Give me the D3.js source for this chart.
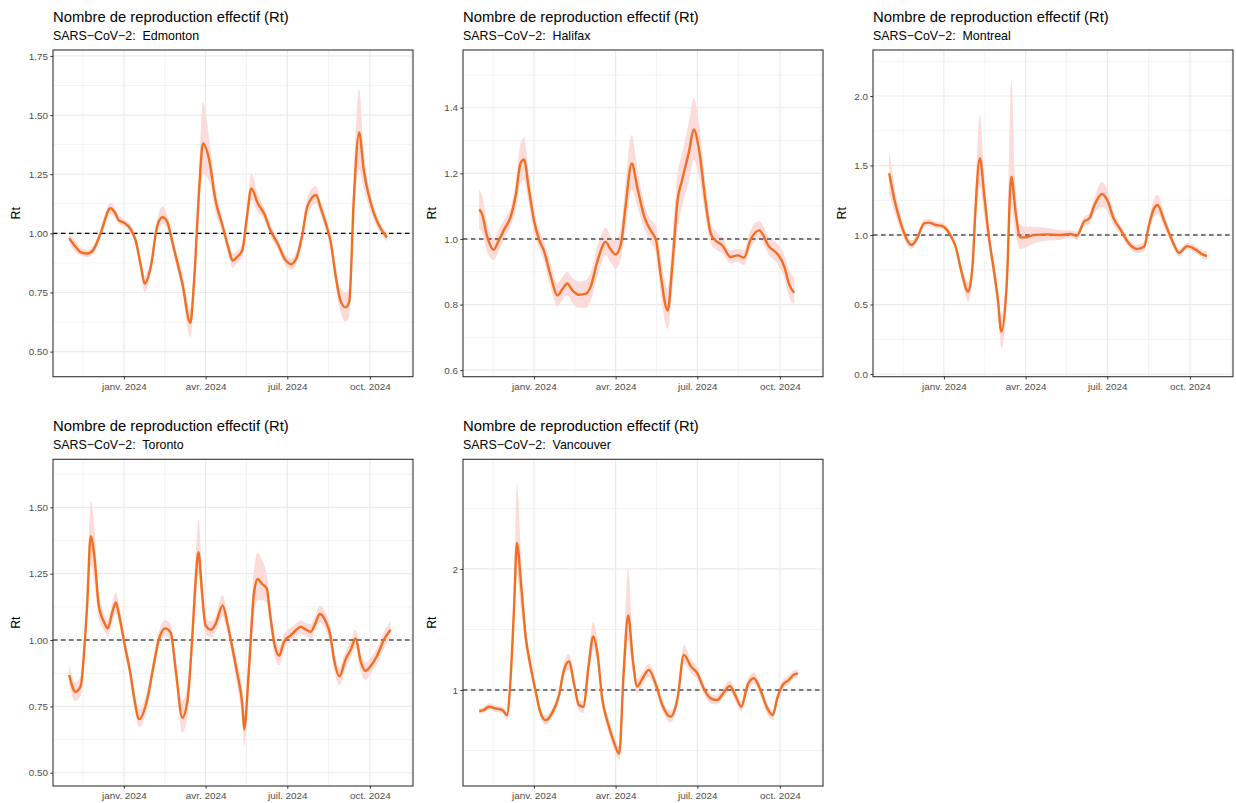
<!DOCTYPE html>
<html>
<head>
<meta charset="utf-8">
<script src="https://cdn.jsdelivr.net/npm/d3@7"></script>
<style>
  body { margin: 0; background: #fff; }
  text { font-family: "Liberation Sans", Arial, Helvetica, sans-serif; }
</style>
</head>
<body>
<svg id="chart" width="1236" height="803"></svg>
<script>
'use strict';

// [date, Rt, lower, upper]
const edmonton = [
  ['2023-11-01', 0.980, 0.960, 1.000], ['2023-11-08', 0.944, 0.920, 0.965],
  ['2023-11-14', 0.920, 0.905, 0.940], ['2023-11-22', 0.915, 0.900, 0.930],
  ['2023-11-29', 0.937, 0.920, 0.955], ['2023-12-06', 1.000, 0.980, 1.020],
  ['2023-12-17', 1.106, 1.080, 1.130], ['2023-12-23', 1.080, 1.060, 1.100],
  ['2023-12-26', 1.056, 1.040, 1.075], ['2024-01-01', 1.045, 1.030, 1.060],
  ['2024-01-08', 1.020, 1.000, 1.040], ['2024-01-14', 0.970, 0.950, 0.990],
  ['2024-01-20', 0.860, 0.830, 0.890], ['2024-01-24', 0.788, 0.750, 0.820],
  ['2024-01-31', 0.860, 0.830, 0.890], ['2024-02-07', 1.030, 1.000, 1.060],
  ['2024-02-13', 1.068, 1.040, 1.115], ['2024-02-18', 1.050, 1.020, 1.080],
  ['2024-02-26', 0.930, 0.900, 0.960], ['2024-03-06', 0.790, 0.750, 0.830],
  ['2024-03-15', 0.622, 0.560, 0.680], ['2024-03-19', 0.790, 0.720, 0.850],
  ['2024-03-25', 1.197, 1.100, 1.300], ['2024-03-29', 1.380, 1.250, 1.555],
  ['2024-04-05', 1.310, 1.220, 1.400], ['2024-04-12', 1.140, 1.090, 1.190],
  ['2024-04-20', 1.030, 1.000, 1.060], ['2024-04-27', 0.930, 0.900, 0.960],
  ['2024-05-01', 0.885, 0.855, 0.915], ['2024-05-06', 0.900, 0.875, 0.925],
  ['2024-05-12', 0.930, 0.900, 0.960], ['2024-05-17', 1.070, 1.030, 1.110],
  ['2024-05-22', 1.190, 1.140, 1.255], ['2024-05-29', 1.127, 1.090, 1.165],
  ['2024-06-05', 1.085, 1.060, 1.110], ['2024-06-12', 1.014, 0.990, 1.040],
  ['2024-06-20', 0.958, 0.935, 0.980], ['2024-06-29', 0.887, 0.865, 0.910],
  ['2024-07-05', 0.870, 0.845, 0.895], ['2024-07-11', 0.894, 0.870, 0.920],
  ['2024-07-18', 1.000, 0.970, 1.030], ['2024-07-23', 1.110, 1.070, 1.150],
  ['2024-08-02', 1.162, 1.125, 1.200], ['2024-08-07', 1.110, 1.080, 1.140],
  ['2024-08-13', 1.040, 1.010, 1.070], ['2024-08-18', 0.970, 0.940, 1.000],
  ['2024-08-24', 0.817, 0.780, 0.860], ['2024-08-29', 0.718, 0.670, 0.770],
  ['2024-09-04', 0.687, 0.626, 0.750], ['2024-09-08', 0.711, 0.650, 0.780],
  ['2024-09-13', 1.140, 1.040, 1.240], ['2024-09-19', 1.427, 1.270, 1.610],
  ['2024-09-24', 1.270, 1.190, 1.360], ['2024-10-02', 1.127, 1.090, 1.165],
  ['2024-10-09', 1.050, 1.025, 1.075], ['2024-10-20', 0.982, 0.965, 1.000]
];

const halifax = [
  ['2023-11-01', 1.090, 1.030, 1.150], ['2023-11-04', 1.077, 1.020, 1.135],
  ['2023-11-10', 1.006, 0.960, 1.050], ['2023-11-17', 0.967, 0.935, 1.000],
  ['2023-11-23', 0.996, 0.965, 1.030], ['2023-11-29', 1.030, 1.000, 1.060],
  ['2023-12-06', 1.067, 1.040, 1.095], ['2023-12-12', 1.138, 1.090, 1.180],
  ['2023-12-17', 1.230, 1.170, 1.290], ['2023-12-21', 1.242, 1.180, 1.310],
  ['2023-12-26', 1.159, 1.110, 1.210], ['2024-01-01', 1.057, 1.020, 1.095],
  ['2024-01-07', 0.996, 0.970, 1.025], ['2024-01-12', 0.965, 0.935, 0.995],
  ['2024-01-20', 0.884, 0.850, 0.920], ['2024-01-27', 0.828, 0.795, 0.865],
  ['2024-02-02', 0.848, 0.815, 0.885], ['2024-02-07', 0.864, 0.830, 0.900],
  ['2024-02-13', 0.843, 0.805, 0.880], ['2024-02-20', 0.830, 0.790, 0.870],
  ['2024-02-28', 0.833, 0.790, 0.875], ['2024-03-04', 0.853, 0.810, 0.895],
  ['2024-03-12', 0.935, 0.890, 0.980], ['2024-03-21', 0.991, 0.950, 1.035],
  ['2024-03-26', 0.970, 0.930, 1.010], ['2024-04-01', 0.953, 0.910, 0.995],
  ['2024-04-07', 0.986, 0.940, 1.035], ['2024-04-12', 1.098, 1.030, 1.170],
  ['2024-04-19', 1.230, 1.150, 1.317], ['2024-04-25', 1.159, 1.100, 1.220],
  ['2024-05-03', 1.067, 1.030, 1.105], ['2024-05-10', 1.026, 0.990, 1.060],
  ['2024-05-16', 0.996, 0.955, 1.040], ['2024-05-21', 0.894, 0.840, 0.950],
  ['2024-05-29', 0.782, 0.726, 0.850], ['2024-06-03', 0.915, 0.840, 0.990],
  ['2024-06-09', 1.118, 1.030, 1.200], ['2024-06-14', 1.179, 1.100, 1.260],
  ['2024-06-22', 1.270, 1.180, 1.360], ['2024-06-27', 1.334, 1.240, 1.430],
  ['2024-07-03', 1.270, 1.190, 1.350], ['2024-07-10', 1.118, 1.070, 1.170],
  ['2024-07-16', 1.016, 0.985, 1.050], ['2024-07-21', 0.996, 0.970, 1.025],
  ['2024-07-29', 0.980, 0.955, 1.005], ['2024-08-07', 0.945, 0.925, 0.965],
  ['2024-08-15', 0.950, 0.930, 0.970], ['2024-08-22', 0.943, 0.920, 0.965],
  ['2024-08-29', 0.996, 0.970, 1.025], ['2024-09-08', 1.026, 1.000, 1.055],
  ['2024-09-19', 0.976, 0.950, 1.005], ['2024-09-28', 0.955, 0.925, 0.985],
  ['2024-10-06', 0.915, 0.880, 0.950], ['2024-10-11', 0.864, 0.825, 0.905],
  ['2024-10-17', 0.836, 0.800, 0.880]
];

const montreal = [
  ['2023-11-01', 1.444, 1.300, 1.620], ['2023-11-07', 1.250, 1.160, 1.350],
  ['2023-11-14', 1.084, 1.030, 1.140], ['2023-11-21', 0.964, 0.930, 1.000],
  ['2023-11-26', 0.928, 0.900, 0.960], ['2023-12-02', 0.976, 0.950, 1.005],
  ['2023-12-10', 1.084, 1.060, 1.110], ['2023-12-15', 1.089, 1.065, 1.115],
  ['2023-12-23', 1.072, 1.050, 1.095], ['2023-12-30', 1.065, 1.045, 1.090],
  ['2024-01-07', 1.012, 0.990, 1.035], ['2024-01-14', 0.916, 0.890, 0.940],
  ['2024-01-21', 0.724, 0.680, 0.770], ['2024-01-28', 0.592, 0.520, 0.660],
  ['2024-02-02', 0.790, 0.710, 0.870], ['2024-02-05', 1.170, 1.030, 1.320],
  ['2024-02-10', 1.552, 1.350, 1.863], ['2024-02-15', 1.280, 1.140, 1.430],
  ['2024-02-20', 0.990, 0.910, 1.070], ['2024-02-26', 0.730, 0.660, 0.800],
  ['2024-03-01', 0.540, 0.460, 0.620], ['2024-03-05', 0.305, 0.185, 0.420],
  ['2024-03-11', 0.652, 0.500, 0.800], ['2024-03-16', 1.420, 1.200, 2.115],
  ['2024-03-21', 1.156, 1.000, 1.350], ['2024-03-26', 0.983, 0.900, 1.070],
  ['2024-04-01', 0.983, 0.910, 1.060], ['2024-04-10', 1.000, 0.940, 1.060],
  ['2024-04-25', 1.005, 0.960, 1.050], ['2024-05-10', 1.000, 0.965, 1.035],
  ['2024-05-21', 1.007, 0.980, 1.035], ['2024-05-28', 0.995, 0.965, 1.025],
  ['2024-06-05', 1.096, 1.060, 1.130], ['2024-06-11', 1.120, 1.080, 1.160],
  ['2024-06-16', 1.204, 1.150, 1.260], ['2024-06-25', 1.295, 1.200, 1.380],
  ['2024-07-01', 1.250, 1.170, 1.330], ['2024-07-08', 1.120, 1.070, 1.170],
  ['2024-07-16', 1.036, 1.000, 1.070], ['2024-07-25', 0.940, 0.910, 0.970],
  ['2024-08-03', 0.900, 0.870, 0.930], ['2024-08-11', 0.916, 0.885, 0.950],
  ['2024-08-16', 1.060, 1.020, 1.100], ['2024-08-22', 1.192, 1.130, 1.260],
  ['2024-08-26', 1.216, 1.150, 1.290], ['2024-09-02', 1.108, 1.060, 1.160],
  ['2024-09-11', 0.964, 0.930, 1.000], ['2024-09-19', 0.873, 0.845, 0.900],
  ['2024-09-28', 0.920, 0.895, 0.945], ['2024-10-07', 0.897, 0.870, 0.925],
  ['2024-10-15', 0.861, 0.835, 0.890], ['2024-10-20', 0.849, 0.820, 0.880]
];

const toronto = [
  ['2023-11-01', 0.868, 0.830, 0.910], ['2023-11-08', 0.805, 0.770, 0.840],
  ['2023-11-14', 0.828, 0.790, 0.865], ['2023-11-17', 0.928, 0.890, 0.970],
  ['2023-11-21', 1.130, 1.070, 1.200], ['2023-11-25', 1.391, 1.280, 1.520],
  ['2023-11-29', 1.318, 1.220, 1.430], ['2023-12-04', 1.130, 1.080, 1.180],
  ['2023-12-10', 1.067, 1.035, 1.100], ['2023-12-14', 1.044, 1.015, 1.075],
  ['2023-12-19', 1.104, 1.070, 1.140], ['2023-12-23', 1.142, 1.100, 1.180],
  ['2023-12-26', 1.104, 1.070, 1.140], ['2024-01-02', 0.979, 0.950, 1.010],
  ['2024-01-08', 0.878, 0.845, 0.910], ['2024-01-12', 0.790, 0.755, 0.825],
  ['2024-01-18', 0.702, 0.670, 0.740], ['2024-01-27', 0.777, 0.745, 0.810],
  ['2024-02-03', 0.903, 0.870, 0.935], ['2024-02-09', 1.004, 0.975, 1.035],
  ['2024-02-16', 1.044, 1.015, 1.075], ['2024-02-22', 1.029, 1.000, 1.060],
  ['2024-02-28', 0.878, 0.840, 0.920], ['2024-03-06', 0.708, 0.651, 0.770],
  ['2024-03-12', 0.777, 0.720, 0.840], ['2024-03-17', 1.004, 0.940, 1.070],
  ['2024-03-21', 1.230, 1.140, 1.330], ['2024-03-24', 1.331, 1.250, 1.457],
  ['2024-03-28', 1.180, 1.120, 1.250], ['2024-04-01', 1.054, 1.020, 1.090],
  ['2024-04-07', 1.039, 1.010, 1.070], ['2024-04-12', 1.060, 1.030, 1.090],
  ['2024-04-20', 1.130, 1.090, 1.170], ['2024-04-25', 1.067, 1.030, 1.100],
  ['2024-05-01', 0.966, 0.930, 1.000], ['2024-05-06', 0.878, 0.830, 0.920],
  ['2024-05-12', 0.752, 0.690, 0.810], ['2024-05-14', 0.664, 0.601, 0.730],
  ['2024-05-19', 0.878, 0.800, 0.950], ['2024-05-25', 1.180, 1.100, 1.270],
  ['2024-05-29', 1.230, 1.150, 1.330], ['2024-06-03', 1.211, 1.150, 1.300],
  ['2024-06-08', 1.195, 1.140, 1.250], ['2024-06-12', 1.092, 1.050, 1.140],
  ['2024-06-17', 0.979, 0.940, 1.020], ['2024-06-22', 0.941, 0.905, 0.975],
  ['2024-06-27', 0.991, 0.960, 1.020], ['2024-07-05', 1.019, 0.995, 1.045],
  ['2024-07-10', 1.035, 1.010, 1.060], ['2024-07-16', 1.050, 1.025, 1.075],
  ['2024-07-21', 1.041, 1.015, 1.065], ['2024-07-27', 1.031, 1.005, 1.060],
  ['2024-08-02', 1.069, 1.040, 1.100], ['2024-08-06', 1.098, 1.065, 1.130],
  ['2024-08-13', 1.069, 1.035, 1.100], ['2024-08-18', 1.016, 0.980, 1.050],
  ['2024-08-22', 0.928, 0.890, 0.965], ['2024-08-28', 0.863, 0.830, 0.895],
  ['2024-09-04', 0.928, 0.895, 0.960], ['2024-09-10', 0.966, 0.935, 1.000],
  ['2024-09-15', 1.006, 0.970, 1.040], ['2024-09-21', 0.916, 0.880, 0.950],
  ['2024-09-26', 0.884, 0.850, 0.915], ['2024-10-02', 0.903, 0.875, 0.935],
  ['2024-10-09', 0.941, 0.910, 0.970], ['2024-10-17', 1.004, 0.970, 1.035],
  ['2024-10-24', 1.039, 1.010, 1.070]
];

const vancouver = [
  ['2023-11-01', 0.826, 0.800, 0.850], ['2023-11-06', 0.834, 0.810, 0.860],
  ['2023-11-12', 0.862, 0.835, 0.890], ['2023-11-19', 0.848, 0.820, 0.875],
  ['2023-11-27', 0.834, 0.805, 0.860], ['2023-12-02', 0.793, 0.750, 0.830],
  ['2023-12-06', 1.097, 1.000, 1.200], ['2023-12-10', 1.704, 1.550, 1.900],
  ['2023-12-13', 2.215, 1.950, 2.700], ['2023-12-18', 1.843, 1.650, 2.050],
  ['2023-12-23', 1.428, 1.330, 1.530], ['2023-12-28', 1.207, 1.140, 1.280],
  ['2024-01-03', 0.986, 0.940, 1.035], ['2024-01-08', 0.820, 0.780, 0.860],
  ['2024-01-14', 0.751, 0.710, 0.790], ['2024-01-21', 0.807, 0.770, 0.845],
  ['2024-01-29', 0.959, 0.910, 1.000], ['2024-02-03', 1.152, 1.090, 1.210],
  ['2024-02-09', 1.235, 1.170, 1.300], ['2024-02-15', 1.041, 0.990, 1.090],
  ['2024-02-20', 0.876, 0.830, 0.920], ['2024-02-25', 0.862, 0.810, 0.910],
  ['2024-03-02', 1.207, 1.120, 1.300], ['2024-03-07', 1.442, 1.330, 1.566],
  ['2024-03-12', 1.290, 1.200, 1.390], ['2024-03-17', 0.931, 0.870, 0.990],
  ['2024-03-23', 0.738, 0.680, 0.800], ['2024-03-30', 0.572, 0.510, 0.630],
  ['2024-04-05', 0.475, 0.420, 0.530], ['2024-04-10', 1.152, 1.000, 1.320],
  ['2024-04-15', 1.616, 1.400, 2.008], ['2024-04-20', 1.262, 1.150, 1.380],
  ['2024-04-25', 1.028, 0.970, 1.090], ['2024-05-01', 1.097, 1.040, 1.150],
  ['2024-05-08', 1.166, 1.110, 1.220], ['2024-05-16', 1.041, 0.990, 1.090],
  ['2024-05-23', 0.876, 0.830, 0.920], ['2024-06-01', 0.779, 0.730, 0.830],
  ['2024-06-09', 0.931, 0.880, 0.980], ['2024-06-16', 1.290, 1.220, 1.370],
  ['2024-06-24', 1.193, 1.140, 1.250], ['2024-07-01', 1.138, 1.090, 1.190],
  ['2024-07-08', 1.014, 0.970, 1.060], ['2024-07-16', 0.931, 0.890, 0.970],
  ['2024-07-23', 0.917, 0.880, 0.955], ['2024-07-31', 0.986, 0.945, 1.030],
  ['2024-08-06', 1.033, 0.990, 1.080], ['2024-08-13', 0.945, 0.900, 0.990],
  ['2024-08-19', 0.862, 0.820, 0.905], ['2024-08-26', 1.041, 0.990, 1.090],
  ['2024-09-02', 1.097, 1.050, 1.145], ['2024-09-10', 0.986, 0.940, 1.030],
  ['2024-09-17', 0.848, 0.800, 0.890], ['2024-09-23', 0.793, 0.750, 0.835],
  ['2024-09-28', 0.931, 0.890, 0.970], ['2024-10-04', 1.041, 1.000, 1.080],
  ['2024-10-11', 1.083, 1.045, 1.120], ['2024-10-17', 1.130, 1.095, 1.165],
  ['2024-10-21', 1.135, 1.100, 1.170]
];

const titleText = 'Nombre de reproduction effectif (Rt)';
const subtitlePrefix = 'SARS\u2212CoV\u22122:  ';

const xDomain = ['2023-10-14', '2024-11-18'];
const xTickDates = ['2024-01-01', '2024-04-01', '2024-07-01', '2024-10-01'];
const xTickLabels = ['janv. 2024', 'avr. 2024', 'juil. 2024', 'oct. 2024'];

const edmontonTicks = [0.5, 0.75, 1, 1.25, 1.5, 1.75];
const halifaxTicks = [0.6, 0.8, 1.0, 1.2, 1.4];
const montrealTicks = [0, 0.5, 1, 1.5, 2];
const torontoTicks = [0.5, 0.75, 1, 1.25, 1.5];
const vancouverTicks = [1, 2];

const panels = [
  { name: 'Edmonton', rows: edmonton, col: 0, row: 0, yDomain: [0.394, 1.775], ticks: edmontonTicks, fmt: '.2f' },
  { name: 'Halifax', rows: halifax, col: 1, row: 0, yDomain: [0.580, 1.576], ticks: halifaxTicks, fmt: '.1f' },
  { name: 'Montreal', rows: montreal, col: 2, row: 0, yDomain: [-0.019, 2.331], ticks: montrealTicks, fmt: '.1f' },
  { name: 'Toronto', rows: toronto, col: 0, row: 1, yDomain: [0.450, 1.681], ticks: torontoTicks, fmt: '.2f' },
  { name: 'Vancouver', rows: vancouver, col: 1, row: 1, yDomain: [0.207, 2.906], ticks: vancouverTicks, fmt: 'd' }
];

// layout
const colLeft = [53, 463, 873];
const rtLabelX = [16, 431.7, 841.7];
const rowTop = [50, 459.3];
const panelW = 360;
const panelH = 326.7;

const parse = d3.timeParse('%Y-%m-%d');
const svg = d3.select('#chart');

const lineColor = '#F26F22';
const ribbonColor = '#FCDCDA';

panels.forEach((p, i) => {
  const x0 = colLeft[p.col];
  const y0 = rowTop[p.row];
  const g = svg.append('g').attr('transform', `translate(${x0},${y0})`);

  const x = d3.scaleTime().domain(xDomain.map(parse)).range([0, panelW]);
  const y = d3.scaleLinear().domain(p.yDomain).range([panelH, 0]);

  // titles
  g.append('text').attr('x', 0).attr('y', -28.3)
    .attr('font-size', 14.8).attr('fill', '#000').text(titleText);
  g.append('text').attr('x', 0).attr('y', -10.3)
    .attr('font-size', 12.4).attr('fill', '#000')
    .style('white-space', 'pre').text(subtitlePrefix + p.name);

  // y axis title
  svg.append('text')
    .attr('transform', `translate(${rtLabelX[p.col]},${y0 + panelH / 2}) rotate(-90)`)
    .attr('text-anchor', 'middle').attr('dominant-baseline', 'central')
    .attr('font-size', 12.4).attr('fill', '#000').text('Rt');

  // grid: minor lines at midpoints between major breaks
  const majT = xTickDates.map(parse);
  const minT = [];
  minT.push(new Date(+majT[0] - (majT[1] - majT[0]) / 2));
  for (let k = 0; k < majT.length - 1; k++) minT.push(new Date((+majT[k] + +majT[k + 1]) / 2));
  minT.push(new Date(+majT[majT.length - 1] + (majT[majT.length - 1] - majT[majT.length - 2]) / 2));

  const step = p.ticks.length > 1 ? p.ticks[1] - p.ticks[0] : 1;
  const minY = [p.ticks[0] - step / 2].concat(p.ticks.map(t => t + step / 2))
    .filter(v => v > p.yDomain[0] && v < p.yDomain[1]);

  const grid = g.append('g');
  grid.selectAll('.gxm').data(minT.filter(d => x(d) > 0 && x(d) < panelW)).join('line')
    .attr('x1', d => x(d)).attr('x2', d => x(d)).attr('y1', 0).attr('y2', panelH)
    .attr('stroke', '#EBEBEB').attr('stroke-width', 0.6);
  grid.selectAll('.gym').data(minY).join('line')
    .attr('x1', 0).attr('x2', panelW).attr('y1', d => y(d)).attr('y2', d => y(d))
    .attr('stroke', '#EBEBEB').attr('stroke-width', 0.6);
  grid.selectAll('.gxM').data(majT).join('line')
    .attr('x1', d => x(d)).attr('x2', d => x(d)).attr('y1', 0).attr('y2', panelH)
    .attr('stroke', '#EBEBEB').attr('stroke-width', 1.2);
  grid.selectAll('.gyM').data(p.ticks).join('line')
    .attr('x1', 0).attr('x2', panelW).attr('y1', d => y(d)).attr('y2', d => y(d))
    .attr('stroke', '#EBEBEB').attr('stroke-width', 1.2);

  // clip
  const clipId = 'clip' + i;
  g.append('clipPath').attr('id', clipId).append('rect')
    .attr('width', panelW).attr('height', panelH);
  const plot = g.append('g').attr('clip-path', `url(#${clipId})`);

  const pts = p.rows.map(r => ({ date: parse(r[0]), rt: r[1], lo: r[2], hi: r[3] }));

  const area = d3.area().curve(d3.curveMonotoneX)
    .x(d => x(d.date)).y0(d => y(d.lo)).y1(d => y(d.hi));
  const line = d3.line().curve(d3.curveMonotoneX)
    .x(d => x(d.date)).y(d => y(d.rt));

  plot.append('path').datum(pts).attr('d', area).attr('fill', ribbonColor);

  plot.append('line').attr('x1', 0).attr('x2', panelW)
    .attr('y1', y(1)).attr('y2', y(1))
    .attr('stroke', '#000').attr('stroke-width', 1.1).attr('stroke-dasharray', '4.5,3.5');

  plot.append('path').datum(pts).attr('d', line)
    .attr('fill', 'none').attr('stroke', lineColor).attr('stroke-width', 2.4)
    .attr('stroke-linejoin', 'round').attr('stroke-linecap', 'butt');

  // axes
  const yAxis = d3.axisLeft(y).tickValues(p.ticks).tickSize(2.7).tickPadding(2.4)
    .tickFormat(d3.format(p.fmt));
  const ya = g.append('g').call(yAxis);
  const xAxis = d3.axisBottom(x).tickValues(majT).tickSize(2.7).tickPadding(3.2)
    .tickFormat((d, k) => xTickLabels[k]);
  const xa = g.append('g').attr('transform', `translate(0,${panelH})`).call(xAxis);

  [ya, xa].forEach(a => {
    a.select('.domain').remove();
    a.selectAll('.tick line').attr('stroke', '#333333').attr('stroke-width', 1);
    a.selectAll('.tick text').attr('fill', '#4D4D4D').attr('font-size', 9.9)
      .attr('font-family', '"Liberation Sans", Arial, Helvetica, sans-serif');
  });

  // border
  g.append('rect').attr('width', panelW).attr('height', panelH)
    .attr('fill', 'none').attr('stroke', '#333333').attr('stroke-width', 1.1);
});
</script>
</body>
</html>
